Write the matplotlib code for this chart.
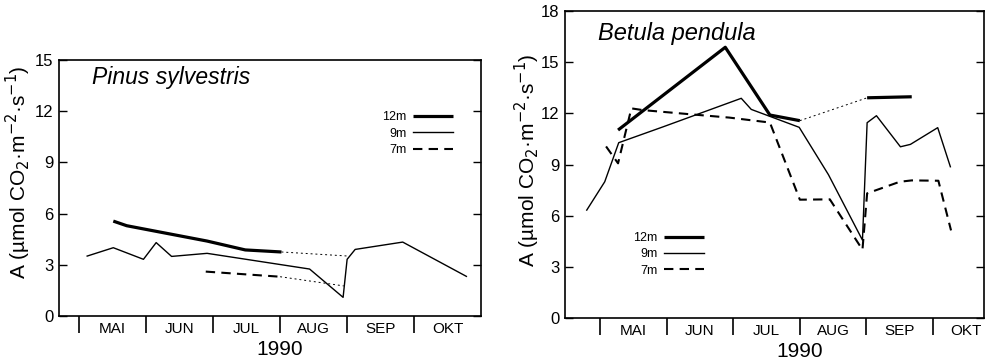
import matplotlib
matplotlib.use('Agg')
from matplotlib import pyplot as plt

plt.rcParams['font.family'] = ['Liberation Sans', 'DejaVu Sans']

# x values are months counted from 1 May (0 = 1 May, 1 = 1 June, ...)
months = ['MAI', 'JUN', 'JUL', 'AUG', 'SEP', 'OKT']

# Pinus sylvestris
pinus_12_x = [0.51, 0.71, 1.91, 2.48, 3.02]
pinus_12_y = [5.56, 5.29, 4.39, 3.87, 3.75]
pinus_12_gap_x = [3.02, 4.02]
pinus_12_gap_y = [3.75, 3.51]
pinus_9_x = [0.12, 0.51, 0.96, 1.15, 1.38, 1.91, 3.44, 3.94, 4.00, 4.12, 4.83, 5.78]
pinus_9_y = [3.51, 4.00, 3.32, 4.30, 3.49, 3.67, 2.75, 1.09, 3.32, 3.90, 4.33, 2.32]
pinus_7_x = [1.89, 2.48, 3.00]
pinus_7_y = [2.60, 2.44, 2.30]
pinus_7_gap_x = [3.00, 3.95]
pinus_7_gap_y = [2.30, 1.76]

# Betula pendula
betula_12_x = [0.27, 1.88, 2.55, 3.00]
betula_12_y = [11.02, 15.87, 11.90, 11.57]
betula_12_gap_x = [3.00, 4.01]
betula_12_gap_y = [11.57, 12.91]
betula_12b_x = [4.01, 4.68]
betula_12b_y = [12.91, 12.97]
betula_9_x = [-0.20, 0.07, 0.28, 0.94, 2.12, 2.27, 2.99, 3.43, 3.94, 4.01, 4.15, 4.51, 4.66, 5.07, 5.26]
betula_9_y = [6.33, 7.99, 10.28, 11.20, 12.88, 12.23, 11.18, 8.40, 4.57, 11.45, 11.86, 10.04, 10.18, 11.16, 8.87]
betula_7_x = [0.09, 0.27, 0.47, 0.64, 1.34, 1.94, 2.55, 3.00, 3.45, 3.94, 4.01, 4.50, 4.68, 5.08, 5.27]
betula_7_y = [10.06, 9.07, 12.29, 12.19, 11.95, 11.75, 11.46, 6.94, 6.96, 4.01, 7.31, 7.99, 8.07, 8.05, 5.14]

fig = plt.figure(figsize=(9.92, 3.64), dpi=100)
ax1 = fig.add_axes([0.0595, 0.132, 0.4255, 0.703])
ax2 = fig.add_axes([0.5696, 0.126, 0.4224, 0.844])

thick = dict(color='black', lw=2.3, solid_capstyle='butt')
thin = dict(color='black', lw=1.0)
dash = dict(color='black', lw=1.5, dashes=(4.5, 3))
dot = dict(color='black', lw=0.7, dashes=(2, 3))


def style_axes(ax, ymax, xlim):
    ax.set_xlim(*xlim)
    ax.set_ylim(0, ymax)
    ax.set_yticks(range(0, ymax + 1, 3))
    ax.tick_params(axis='y', direction='in', length=6, width=1, right=True,
                   labelsize=12, pad=4)
    # month separators drawn as long ticks below the axis
    ax.set_xticks(range(0, 6))
    ax.set_xticklabels([])
    ax.tick_params(axis='x', direction='out', length=12, width=1.2)
    ax.set_xticks([k + 0.5 for k in range(6)], minor=True)
    ax.set_xticklabels(months, minor=True)
    ax.tick_params(axis='x', which='minor', length=0, labelsize=11, pad=4)
    ax.annotate('1990', xy=(3.0, 0), xycoords=('data', 'axes fraction'),
                xytext=(0, -17), textcoords='offset points',
                ha='center', va='top', fontsize=15)
    for s in ax.spines.values():
        s.set_linewidth(1.2)
    ax.set_ylabel('A (µmol CO$_2$·m$^{-2}$·s$^{-1}$)', fontsize=15)


style_axes(ax1, 15, (-0.3, 6.0))
ax1.plot(pinus_12_x, pinus_12_y, label='12m', **thick)
ax1.plot(pinus_9_x, pinus_9_y, label='9m', **thin)
ax1.plot(pinus_7_x, pinus_7_y, label='7m', **dash)
ax1.plot(pinus_12_gap_x, pinus_12_gap_y, **dot)
ax1.plot(pinus_7_gap_x, pinus_7_gap_y, **dot)
ax1.text(0.078, 0.93, 'Pinus sylvestris', transform=ax1.transAxes,
         style='italic', fontsize=16.5, va='center')
ax1.legend(loc='upper right', bbox_to_anchor=(0.934, 0.80), frameon=False,
           markerfirst=False, fontsize=9, handlelength=3.2, handletextpad=0.55,
           labelspacing=0.35, borderpad=0, borderaxespad=0)
ax1.yaxis.set_label_coords(-0.062, 0.56)

style_axes(ax2, 18, (-0.526, 5.766))
ax2.plot(betula_12_x, betula_12_y, label='12m', **thick)
ax2.plot(betula_9_x, betula_9_y, label='9m', **thin)
ax2.plot(betula_7_x, betula_7_y, label='7m', **dash)
ax2.plot(betula_12_gap_x, betula_12_gap_y, **dot)
ax2.plot(betula_12b_x, betula_12b_y, **thick)
ax2.text(0.078, 0.925, 'Betula pendula', transform=ax2.transAxes,
         style='italic', fontsize=17, va='center')
ax2.legend(loc='upper left', bbox_to_anchor=(0.162, 0.28), frameon=False,
           markerfirst=False, fontsize=9, handlelength=3.2, handletextpad=0.55,
           labelspacing=0.35, borderpad=0, borderaxespad=0)
ax2.yaxis.set_label_coords(-0.056, 0.515)

fig.savefig('out.png', dpi=100)
